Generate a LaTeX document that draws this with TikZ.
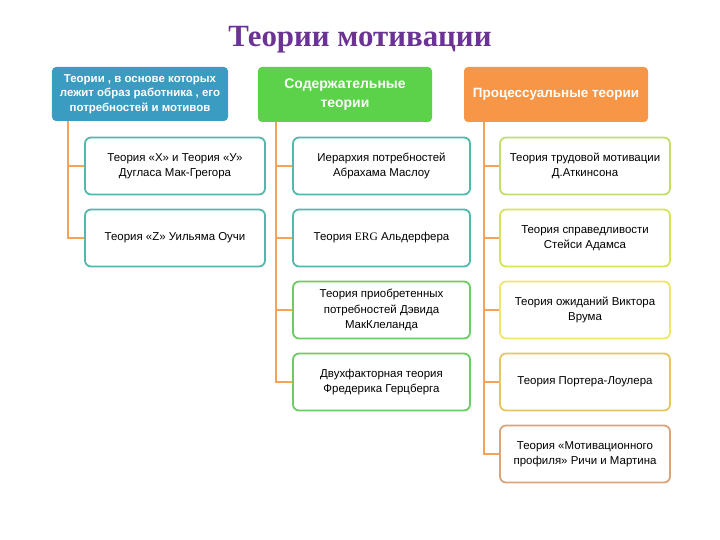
\documentclass[tikz,border=0pt]{standalone}
\usepackage{fontspec}
\setmainfont{Liberation Sans}
\newfontfamily\serifpart{Liberation Serif}
\usepackage{tikz}
\usetikzlibrary{positioning}

\definecolor{titlepurple}{HTML}{6B3494}
\definecolor{hdrblue}{HTML}{3A9CC0}
\definecolor{hdrgreen}{HTML}{5CD24A}
\definecolor{hdrorange}{HTML}{F79646}
\definecolor{linkorange}{HTML}{F2A45C}
\definecolor{tealline}{HTML}{52B8AC}
\definecolor{greenline}{HTML}{6CCB62}
\definecolor{lime1}{HTML}{C3DD6C}
\definecolor{lime2}{HTML}{D5E45A}
\definecolor{yellowline}{HTML}{EFE56C}
\definecolor{goldline}{HTML}{E6C563}
\definecolor{tanline}{HTML}{D9A47A}

\begin{document}
\begin{tikzpicture}[x=1bp, y=-1bp, node distance=13.2bp, font=\fontsize{11.5}{15.5}\selectfont]
            \useasboundingbox (0,0) rectangle (720,540);

            % Title
            \node[font=\serifpart\bfseries\fontsize{31}{34}\selectfont, text=titlepurple] (title) at (360,40) {Теории мотивации};

            % Header boxes
            \node[rectangle, rounded corners=4bp, fill=hdrblue, text=white, align=center, minimum width=176bp, minimum height=54bp, font=\bfseries\fontsize{11.5}{14.5}\selectfont] (basic) at (140,94) {Теории , в основе которых\\лежит образ работника , его\\потребностей и мотивов};
            \node[rectangle, rounded corners=4bp, fill=hdrgreen, text=white, align=center, minimum width=174bp, minimum height=55bp, font=\bfseries\fontsize{14}{19}\selectfont] (content) at (345,94.5) {Содержательные\\теории};
            \node[rectangle, rounded corners=4bp, fill=hdrorange, text=white, align=center, minimum width=184bp, minimum height=55bp, font=\bfseries\fontsize{13.5}{19}\selectfont] (process) at (556,94.5) {Процессуальные теории};

            % Column 1
            \node[draw=tealline, line width=1.8bp, rectangle, rounded corners=6bp, fill=white, align=center, minimum width=180bp, minimum height=57bp] (mcgregor) at (175,166) {Теория «Х» и Теория «У»\\Дугласа Мак-Грегора};
            \node[draw=tealline, line width=1.8bp, rectangle, rounded corners=6bp, fill=white, align=center, minimum width=180bp, minimum height=57bp, below=of mcgregor] (ouchi) {Теория «Z» Уильяма Оучи};

            % Column 2
            \node[draw=tealline, line width=1.8bp, rectangle, rounded corners=6bp, fill=white, align=center, minimum width=177bp, minimum height=57bp] (maslow) at (381.5,166) {Иерархия потребностей\\Абрахама Маслоу};
            \node[draw=tealline, line width=1.8bp, rectangle, rounded corners=6bp, fill=white, align=center, minimum width=177bp, minimum height=57bp, below=of maslow] (erg) {Теория {\serifpart ERG} Альдерфера};
            \node[draw=greenline, line width=1.8bp, rectangle, rounded corners=6bp, fill=white, align=center, minimum width=177bp, minimum height=57bp, below=of erg] (mcclel) {Теория приобретенных\\потребностей  Дэвида\\МакКлеланда};
            \node[draw=greenline, line width=1.8bp, rectangle, rounded corners=6bp, fill=white, align=center, minimum width=177bp, minimum height=57bp, below=of mcclel] (herz) {Двухфакторная теория\\Фредерика Герцберга};

            % Column 3
            \node[draw=lime1, line width=1.8bp, rectangle, rounded corners=6bp, fill=white, align=center, minimum width=170bp, minimum height=57bp] (atkin) at (585,166) {Теория трудовой мотивации\\Д.Аткинсона};
            \node[draw=lime2, line width=1.8bp, rectangle, rounded corners=6bp, fill=white, align=center, minimum width=170bp, minimum height=57bp, below=of atkin] (adams) {Теория справедливости\\Стейси Адамса};
            \node[draw=yellowline, line width=1.8bp, rectangle, rounded corners=6bp, fill=white, align=center, minimum width=170bp, minimum height=57bp, below=of adams] (vroom) {Теория ожиданий Виктора\\Врума};
            \node[draw=goldline, line width=1.8bp, rectangle, rounded corners=6bp, fill=white, align=center, minimum width=170bp, minimum height=57bp, below=of vroom] (porter) {Теория Портера-Лоулера};
            \node[draw=tanline, line width=1.8bp, rectangle, rounded corners=6bp, fill=white, align=center, minimum width=170bp, minimum height=57bp, below=of porter] (richie) {Теория «Мотивационного\\профиля» Ричи и Мартина};

            % Trunk starts under the headers
            \coordinate (trunkA) at ([xshift=16bp]basic.south west);
            \coordinate (trunkB) at ([xshift=18bp]content.south west);
            \coordinate (trunkC) at ([xshift=20bp]process.south west);

            % Connectors from headers to theories
            \draw[linkorange, line width=1.6bp] (trunkA) |- (mcgregor.west);
            \draw[linkorange, line width=1.6bp] (trunkA) |- (ouchi.west);
            \draw[linkorange, line width=1.6bp] (trunkB) |- (maslow.west);
            \draw[linkorange, line width=1.6bp] (trunkB) |- (erg.west);
            \draw[linkorange, line width=1.6bp] (trunkB) |- (mcclel.west);
            \draw[linkorange, line width=1.6bp] (trunkB) |- (herz.west);
            \draw[linkorange, line width=1.6bp] (trunkC) |- (atkin.west);
            \draw[linkorange, line width=1.6bp] (trunkC) |- (adams.west);
            \draw[linkorange, line width=1.6bp] (trunkC) |- (vroom.west);
            \draw[linkorange, line width=1.6bp] (trunkC) |- (porter.west);
            \draw[linkorange, line width=1.6bp] (trunkC) |- (richie.west);
        \end{tikzpicture}
\end{document}
